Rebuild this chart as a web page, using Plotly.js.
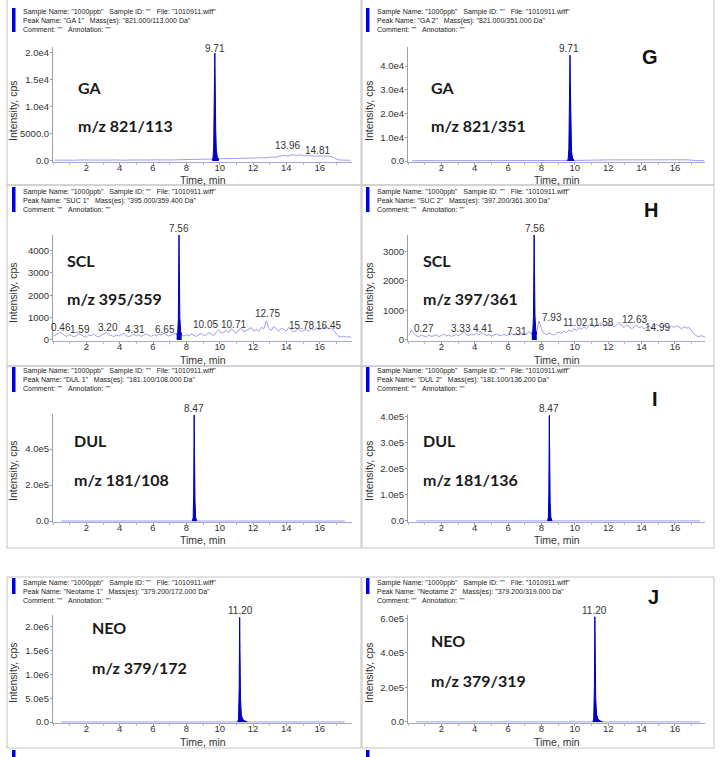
<!DOCTYPE html>
<html>
<head>
<meta charset="utf-8">
<script src="https://cdn.plot.ly/plotly-3.0.1.min.js"></script>
<style>
  html, body { margin: 0; padding: 0; background: #fff; }
  #chart { width: 724px; height: 757px; }
</style>
</head>
<body>
<div id="chart"></div>
<script>
// ---- data ----
const TIME_TICKS = [2, 4, 6, 8, 10, 12, 14, 16];

const PEAK_NAMES = ["GA 1", "GA 2", "SUC 1", "SUC 2", "DUL 1", "DUL 2", "Neotame 1", "Neotame 2"];
const MASSES = ["821.000/113.000 Da", "821.000/351.000 Da", "395.000/359.400 Da", "397.200/361.300 Da",
    "181.100/108.000 Da", "181.100/136.200 Da", "379.200/172.000 Da", "379.200/319.000 Da"];
const COMPOUNDS = ["GA", "GA", "SCL", "SCL", "DUL", "DUL", "NEO", "NEO"];
const TRANSITIONS = ["m/z 821/113", "m/z 821/351", "m/z 395/359", "m/z 397/361",
    "m/z 181/108", "m/z 181/136", "m/z 379/172", "m/z 379/319"];
const LETTERS = ["", "G", "", "H", "", "I", "", "J"];
const RT = ["9.71", "9.71", "7.56", "7.56", "8.47", "8.47", "11.20", "11.20"];

// y tick labels as printed by the software
const GA1_YT = [0, 5000, 10000, 15000, 20000];
const GA1_YL = ["0.0", "5000.0", "1.0e4", "1.5e4", "2.0e4"];
const GA2_YT = [0, 10000, 20000, 30000, 40000];
const GA2_YL = ["0.0", "1.0e4", "2.0e4", "3.0e4", "4.0e4"];
const SCL1_YT = [0, 1000, 2000, 3000, 4000];
const SCL1_YL = ["0", "1000", "2000", "3000", "4000"];
const SCL2_YT = [0, 1000, 2000, 3000];
const SCL2_YL = ["0", "1000", "2000", "3000"];
const DUL1_YT = [0, 200000, 400000];
const DUL1_YL = ["0.0", "2.0e5", "4.0e5"];
const DUL2_YT = [0, 100000, 200000, 300000, 400000];
const DUL2_YL = ["0.0", "1.0e5", "2.0e5", "3.0e5", "4.0e5"];
const NEO1_YT = [0, 500000, 1000000, 1500000, 2000000];
const NEO1_YL = ["0.0", "5.0e5", "1.0e6", "1.5e6", "2.0e6"];
const NEO2_YT = [0, 200000, 400000, 600000];
const NEO2_YL = ["0.0", "2.0e5", "4.0e5", "6.0e5"];

// baselines (cps), sampled every dx minutes from x0
const GA1_BASE = [150, 120, 180, 140, 160, 130, 170, 150, 120, 160,
    140, 170, 130, 150, 180, 140, 160, 130, 170, 150,
    160, 190, 150, 170, 200, 160, 180, 210, 170, 200,
    220, 190, 230, 200, 240, 220, 260, 250, 300, 350,
    380, 330, 440, 390, 470, 420, 520, 470, 560, 530,
    650, 590, 720, 680, 880, 1000, 880, 1180, 1020, 1120,
    960, 1040, 900, 920, 980, 870, 900, 620, 200, 150,
    140, 130];
const GA2_BASE = [150, 120, 180, 140, 160, 130, 170, 150, 140, 160,
    180, 150, 170, 200, 190, 220, 210, 250, 240, 230,
    350, 380, 420, 450, 500, 520, 600, 650, 580, 620,
    600, 550, 560, 520, 200, 150];
const SCL1_BASE = [180, 260, 300, 350, 220, 150, 240, 190, 130, 200,
    280, 210, 160, 120, 230, 190, 250, 170, 140, 210,
    260, 330, 240, 180, 150, 220, 170, 240, 300, 190,
    140, 210, 260, 180, 230, 150, 200, 270, 190, 160,
    230, 180, 260, 210, 300, 240, 170, 220, 250, 300,
    280, 210, 170, 230, 190, 260, 200, 150, 240, 280,
    190, 230, 320, 260, 200, 350, 450, 300, 380, 420,
    340, 500, 380, 300, 450, 520, 360, 420, 480, 550,
    400, 470, 380, 560, 500, 850, 520, 430, 600, 480,
    380, 520, 450, 400, 560, 470, 350, 430, 500, 380,
    420, 470, 390, 510, 440, 550, 460, 500, 520, 580,
    490, 530, 420, 260, 150, 130, 170, 120, 150, 110];
const SCL2_BASE = [150, 330, 220, 140, 110, 170, 130, 100, 160, 120,
    140, 180, 110, 150, 200, 130, 170, 120, 160, 190,
    140, 210, 290, 180, 150, 200, 170, 230, 160, 260,
    200, 150, 180, 130, 170, 210, 160, 140, 190, 150,
    180, 220, 170, 200, 160, 230, 190, 210, 280, 220,
    180, 250, 640, 380, 220, 180, 240, 200, 160, 230,
    260, 210, 300, 250, 340, 280, 380, 320, 420, 360,
    450, 380, 500, 560, 420, 480, 530, 580, 460, 520,
    470, 540, 430, 500, 600, 480, 420, 510, 450, 380,
    440, 500, 410, 460, 380, 430, 470, 400, 450, 520,
    480, 430, 510, 460, 400, 470, 420, 490, 440, 380,
    450, 400, 420, 300, 200, 140, 110, 150, 100, 120];
const DUL1_BASE = [400, 300, 500, 350, 450, 300, 400, 350, 600, 500, 400, 350, 450, 300, 400, 350, 300, 400];
const DUL2_BASE = [300, 250, 350, 300, 400, 250, 300, 350, 500, 400, 300, 350, 300, 250, 300, 350, 300, 250];
const NEO1_BASE = [1500, 1200, 1800, 1400, 1600, 1300, 1500, 1400, 1600, 1500, 1800, 3000, 2500, 2000, 1800, 1600, 1500, 1400];
const NEO2_BASE = [500, 400, 600, 450, 550, 400, 500, 450, 550, 500, 600, 1500, 1200, 900, 700, 600, 500, 450];

// integrated peaks (time, cps)
const GA1_PT = [9.55, 9.60, 9.64, 9.67, 9.69, 9.71, 9.73, 9.76, 9.80, 9.86, 9.95];
const GA1_PY = [200, 500, 2500, 9000, 16000, 20000, 15000, 6000, 2000, 700, 300];
const GA2_PT = [9.55, 9.60, 9.64, 9.67, 9.69, 9.71, 9.73, 9.76, 9.80, 9.86, 9.95];
const GA2_PY = [200, 900, 5000, 20000, 36000, 44600, 33000, 13000, 4000, 1200, 300];
const SCL1_PT = [7.42, 7.48, 7.52, 7.55, 7.56, 7.58, 7.61, 7.66, 7.72];
const SCL1_PY = [220, 320, 900, 3600, 4700, 3200, 1000, 380, 230];
const SCL2_PT = [7.42, 7.48, 7.52, 7.55, 7.56, 7.58, 7.61, 7.66, 7.72];
const SCL2_PY = [200, 300, 800, 2700, 3550, 2400, 800, 320, 200];
const DUL1_PT = [8.36, 8.41, 8.44, 8.46, 8.47, 8.49, 8.52, 8.56, 8.63];
const DUL1_PY = [500, 20000, 150000, 450000, 590000, 380000, 110000, 20000, 500];
const DUL2_PT = [8.36, 8.41, 8.44, 8.46, 8.47, 8.49, 8.52, 8.56, 8.63];
const DUL2_PY = [300, 14000, 100000, 310000, 405000, 260000, 75000, 14000, 300];
const NEO1_PT = [11.08, 11.13, 11.17, 11.19, 11.20, 11.22, 11.25, 11.30, 11.38, 11.50, 11.65];
const NEO1_PY = [1500, 60000, 700000, 1800000, 2200000, 1500000, 500000, 150000, 60000, 25000, 5000];
const NEO2_PT = [11.08, 11.13, 11.17, 11.19, 11.20, 11.22, 11.25, 11.30, 11.38, 11.50, 11.65];
const NEO2_PY = [500, 18000, 200000, 500000, 610000, 420000, 140000, 45000, 18000, 7000, 1500];

// secondary peak labels (text)
const GA1_MINOR = ["13.96", "14.81"];
const SCL1_MINOR = ["0.46", "1.59", "3.20", "4.31", "6.65", "10.05", "10.71", "12.75", "15.78", "16.45"];
const SCL2_MINOR = ["0.27", "3.33", "4.41", "7.31", "7.93", "11.02", "11.58", "12.63", "14.99"];

// ---- layout geometry (pixels of the 724x757 page) ----
const W = 724, H = 757;
function px(x) { return x / W; }
function py(y) { return 1 - y / H; }

const COLS = [{ l: 53, r: 352, xmax: 17.94, head: 21, bar: 12, box: [7, 361], title: 203, ytitle: 13 },
              { l: 408, r: 705, xmax: 17.8, head: 375, bar: 366, box: [362, 714], title: 557, ytitle: 369 }];
const ROWS = [{ t: 47, b: 162, head: 12, bar: [8, 32], box: [-2, 185], xtitle: 180, ytitle: 111 },
              { t: 235, b: 341, head: 192, bar: [187, 212], box: [185, 366], xtitle: 360, ytitle: 293 },
              { t: 414, b: 522, head: 371, bar: [367, 392], box: [366, 548], xtitle: 540, ytitle: 471 },
              { t: 615, b: 723, head: 583, bar: [578, 594], box: [577, 748], xtitle: 742, ytitle: 673 }];

const PANELS = [
    { base: GA1_BASE, x0: 0.1, dx: 0.25, pt: GA1_PT, py: GA1_PY, yr: [-200, 21100], yt: GA1_YT, yl: GA1_YL,
      big: [76, 87, 125], letter: null, main: [9.71, 48],
      minor: GA1_MINOR, minorX: [14.04, 15.84], minorY: [146, 150] },
    { base: GA2_BASE, x0: 0.25, dx: 0.5, pt: GA2_PT, py: GA2_PY, yr: [-400, 48000], yt: GA2_YT, yl: GA2_YL,
      big: [429, 87, 125], letter: [650, 57], main: [9.64, 48] },
    { base: SCL1_BASE, x0: 0.05, dx: 0.15, pt: SCL1_PT, py: SCL1_PY, yr: [-50, 4700], yt: SCL1_YT, yl: SCL1_YL,
      big: [65, 261, 299], letter: null, main: [7.56, 228],
      minor: SCL1_MINOR, minorX: [0.51, 1.62, 3.27, 4.92, 6.69, 9.12, 10.8, 12.84, 14.88, 16.5],
      minorY: [327, 330, 327, 330, 330, 324, 324, 313, 326, 326] },
    { base: SCL2_BASE, x0: 0.05, dx: 0.15, pt: SCL2_PT, py: SCL2_PY, yr: [-35, 3550], yt: SCL2_YT, yl: SCL2_YL,
      big: [421, 261, 299], letter: [651, 210], main: [7.6, 228],
      minor: SCL2_MINOR, minorX: [0.94, 3.2, 4.5, 6.53, 8.62, 10.06, 11.62, 13.6, 14.97],
      minorY: [328, 328, 328, 331, 317, 323, 322, 319, 327] },
    { base: DUL1_BASE, x0: 0.5, dx: 1.0, pt: DUL1_PT, py: DUL1_PY, yr: [-5000, 595000], yt: DUL1_YT, yl: DUL1_YL,
      big: [72, 441, 479], letter: null, main: [8.46, 408] },
    { base: DUL2_BASE, x0: 0.5, dx: 1.0, pt: DUL2_PT, py: DUL2_PY, yr: [-4000, 410000], yt: DUL2_YT, yl: DUL2_YL,
      big: [421, 441, 479], letter: [655, 399], main: [8.44, 408] },
    { base: NEO1_BASE, x0: 0.5, dx: 1.0, pt: NEO1_PT, py: NEO1_PY, yr: [-20000, 2250000], yt: NEO1_YT, yl: NEO1_YL,
      big: [90, 627, 667], letter: null, main: [11.22, 610] },
    { base: NEO2_BASE, x0: 0.5, dx: 1.0, pt: NEO2_PT, py: NEO2_PY, yr: [-6000, 620000], yt: NEO2_YT, yl: NEO2_YL,
      big: [429, 640, 680], letter: [653, 597], main: [11.2, 610] },
];

const NARROW = '"Liberation Sans Narrow", "Arial Narrow", "Liberation Sans", sans-serif';
const HEAD_FONT = { family: NARROW, size: 7, color: "#222" };
const TICK_FONT = { family: NARROW, size: 9.5, color: "#333" };
const TITLE_FONT = { family: NARROW, size: 10.5, color: "#333" };
const BIG_FONT = { family: "Lato, 'Open Sans', sans-serif", size: 16, color: "#1a1a1a", weight: "bold" };
const LETTER_FONT = { family: '"Liberation Sans", Arial, sans-serif', size: 20, color: "#111", weight: "bold" };
const LABEL_FONT = { family: NARROW, size: 10, color: "#333" };

const SP = "\u00a0\u00a0\u00a0";

function note(x, y, text, font, extra) {
    return Object.assign({
        xref: "paper", yref: "paper", x: px(x), y: py(y), text: text,
        showarrow: false, font: font, xanchor: "center", yanchor: "middle"
    }, extra || {});
}

var traces = [];
var annotations = [];
var shapes = [];
var layout = {
    width: W, height: H,
    margin: { l: 0, r: 0, t: 0, b: 0 },
    paper_bgcolor: "#fff", plot_bgcolor: "#fff",
    showlegend: false,
};

for (var i = 0; i < PANELS.length; i++) {
    var p = PANELS[i];
    var col = COLS[i % 2];
    var row = ROWS[Math.floor(i / 2)];
    var n = i + 1;
    var xa = "x" + n, ya = "y" + n;

    // panel frame and header
    shapes.push({ type: "rect", xref: "paper", yref: "paper",
        x0: px(col.box[0]), x1: px(col.box[1]), y0: py(row.box[0]), y1: py(row.box[1]),
        line: { color: "#c4c4c4", width: 1 }, layer: "below" });
    shapes.push({ type: "rect", xref: "paper", yref: "paper",
        x0: px(col.bar), x1: px(col.bar + 3.5), y0: py(row.bar[0]), y1: py(row.bar[1]),
        fillcolor: "#0000e6", line: { width: 0 } });

    var lines = ["Sample Name: \"1000ppb\"" + SP + "Sample ID: \"\"" + SP + "File: \"1010911.wiff\"",
                 "Peak Name: \"" + PEAK_NAMES[i] + "\"" + SP + "Mass(es): \"" + MASSES[i] + "\"",
                 "Comment: \"\"" + SP + "Annotation: \"\""];
    for (var k = 0; k < 3; k++) {
        annotations.push(note(col.head, row.head + k * 8.7, lines[k], HEAD_FONT, { xanchor: "left" }));
    }

    // axes
    layout["xaxis" + n] = {
        domain: [px(col.l), px(col.r)], range: [0, col.xmax], anchor: ya,
        tickvals: TIME_TICKS, ticks: "outside", ticklen: 2, tickcolor: "#999",
        ticklabelstandoff: -5,
        showline: true, linecolor: "#a8a8d8", linewidth: 1,
        showgrid: false, zeroline: false, tickfont: TICK_FONT, fixedrange: true,
        minor: { dtick: 1, tick0: 0, ticks: "outside", ticklen: 2, tickcolor: "#bbb", showgrid: false },
    };
    layout["yaxis" + n] = {
        domain: [py(row.b), py(row.t)], range: p.yr, anchor: xa,
        tickvals: p.yt, ticktext: p.yl, ticks: "outside", ticklen: 2, tickcolor: "#999",
        ticklabelstandoff: -1,
        showline: true, linecolor: "#a0a0a0", linewidth: 1,
        showgrid: false, zeroline: false, tickfont: TICK_FONT, fixedrange: true,
    };

    annotations.push(note(col.title, row.xtitle, "Time, min", TITLE_FONT));
    annotations.push(note(col.ytitle, row.ytitle, "Intensity, cps", TITLE_FONT, { textangle: -90 }));

    // traces: noisy baseline + integrated peak
    traces.push({
        type: "scatter", mode: "lines", xaxis: xa, yaxis: ya,
        x0: p.x0, dx: p.dx, y: p.base,
        line: { color: "#8484f4", width: 0.8 }, hoverinfo: "skip",
    });
    traces.push({
        type: "scatter", mode: "lines", xaxis: xa, yaxis: ya,
        x: p.pt, y: p.py, fill: "tozeroy", fillcolor: "#0000c4",
        line: { color: "#0000c4", width: 1 }, hoverinfo: "skip",
    });

    // labels
    annotations.push(note(p.big[0], p.big[1], COMPOUNDS[i], BIG_FONT, { xanchor: "left" }));
    annotations.push(note(p.big[0], p.big[2], TRANSITIONS[i], BIG_FONT, { xanchor: "left" }));
    if (p.letter) {
        annotations.push(note(p.letter[0], p.letter[1], LETTERS[i], LETTER_FONT));
    }
    annotations.push({ xref: xa, yref: "paper", x: p.main[0], y: py(p.main[1]), text: RT[i],
        showarrow: false, font: LABEL_FONT, xanchor: "center", yanchor: "middle" });
    if (p.minor) {
        for (var m = 0; m < p.minor.length; m++) {
            annotations.push({ xref: xa, yref: "paper", x: p.minorX[m], y: py(p.minorY[m]), text: p.minor[m],
                showarrow: false, font: LABEL_FONT, xanchor: "center", yanchor: "middle" });
        }
    }
}

// start of the next sample header, cut off at the bottom of the page
shapes.push({ type: "rect", xref: "paper", yref: "paper", x0: px(12), x1: px(15.5), y0: py(750), y1: py(757),
    fillcolor: "#0000e6", line: { width: 0 } });
shapes.push({ type: "rect", xref: "paper", yref: "paper", x0: px(366), x1: px(369.5), y0: py(750), y1: py(757),
    fillcolor: "#0000e6", line: { width: 0 } });

layout.annotations = annotations;
layout.shapes = shapes;

Plotly.newPlot("chart", traces, layout, { staticPlot: true, displayModeBar: false });
</script>
</body>
</html>
